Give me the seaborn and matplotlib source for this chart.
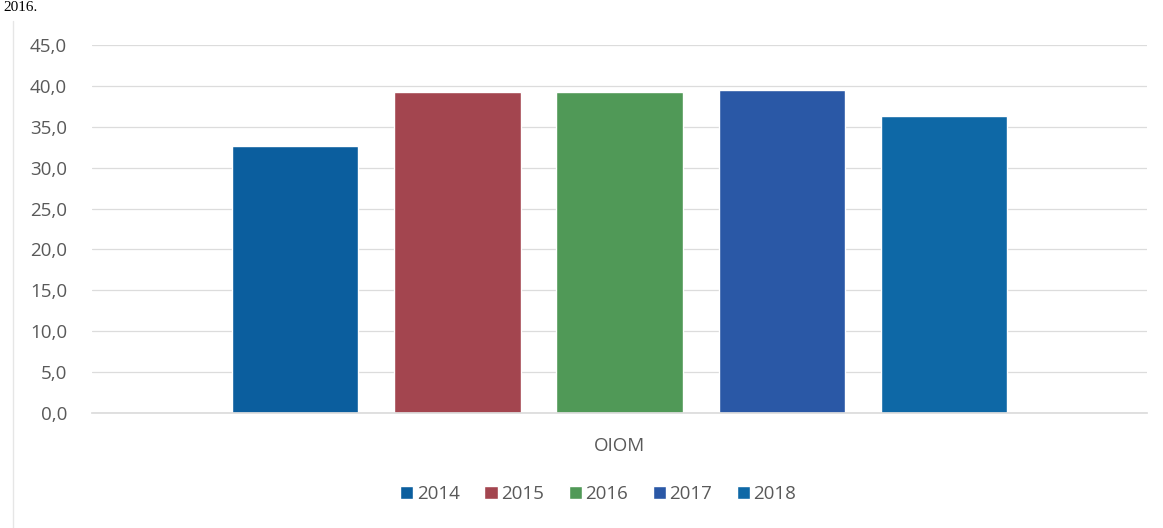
import matplotlib
matplotlib.use("Agg")
import matplotlib.pyplot as plt
import pandas as pd
import seaborn as sns

# Data
category = ["OIOM"]
years = ["2014", "2015", "2016", "2017", "2018"]
values = [32.6, 39.3, 39.3, 39.5, 36.3]
colors = ["#0b5e9e", "#a3454f", "#509957", "#2a58a6", "#0e68a6"]
y_ticks = [0, 5, 10, 15, 20, 25, 30, 35, 40, 45]

df = pd.DataFrame({"category": category * len(years), "year": years, "value": values})

sns.set_theme(style="white")
plt.rcParams["font.family"] = ["Open Sans", "DejaVu Sans"]

fig = plt.figure(figsize=(11.63, 5.28), dpi=100)
ax = fig.add_axes([0.0791, 0.2178, 0.9072, 0.697])

sns.barplot(data=df, x="category", y="value", hue="year", palette=colors,
            width=0.768, gap=0.222, ax=ax, saturation=1, legend=True)

ax.set_xlim(-0.5, 0.5)
ax.set_ylim(0, 45)
ax.set_yticks(y_ticks)
ax.set_yticklabels([f"{t:.1f}".replace(".", ",") for t in y_ticks])
ax.yaxis.grid(True, color="#dcdcdc", linewidth=0.9)
ax.set_axisbelow(True)
for side in ["top", "right", "left"]:
    ax.spines[side].set_visible(False)
ax.spines["bottom"].set_color("#dcdcdc")
ax.tick_params(axis="y", length=0, pad=18, labelsize=13.5, labelcolor="#595959")
ax.tick_params(axis="x", length=0, pad=17, labelsize=13.5, labelcolor="#595959")
ax.set_xlabel("")
ax.set_ylabel("")

ax.legend(loc="upper center", bbox_to_anchor=(0.48, -0.15), ncol=5, frameon=False,
          fontsize=13.5, labelcolor="#595959", handlelength=0.7, handleheight=0.7,
          handletextpad=0.2, columnspacing=1.3)

# faint frame line of the embedded chart and caption fragment above it
fig.add_artist(plt.Line2D([0.011, 0.011], [0.0, 0.96], color="#e6e6e6", linewidth=1))
fig.text(0.003, 1 - 1 / 528, "2016.", family="Liberation Serif", fontsize=11,
         color="black", va="top")

fig.savefig("out.png", dpi=100)
